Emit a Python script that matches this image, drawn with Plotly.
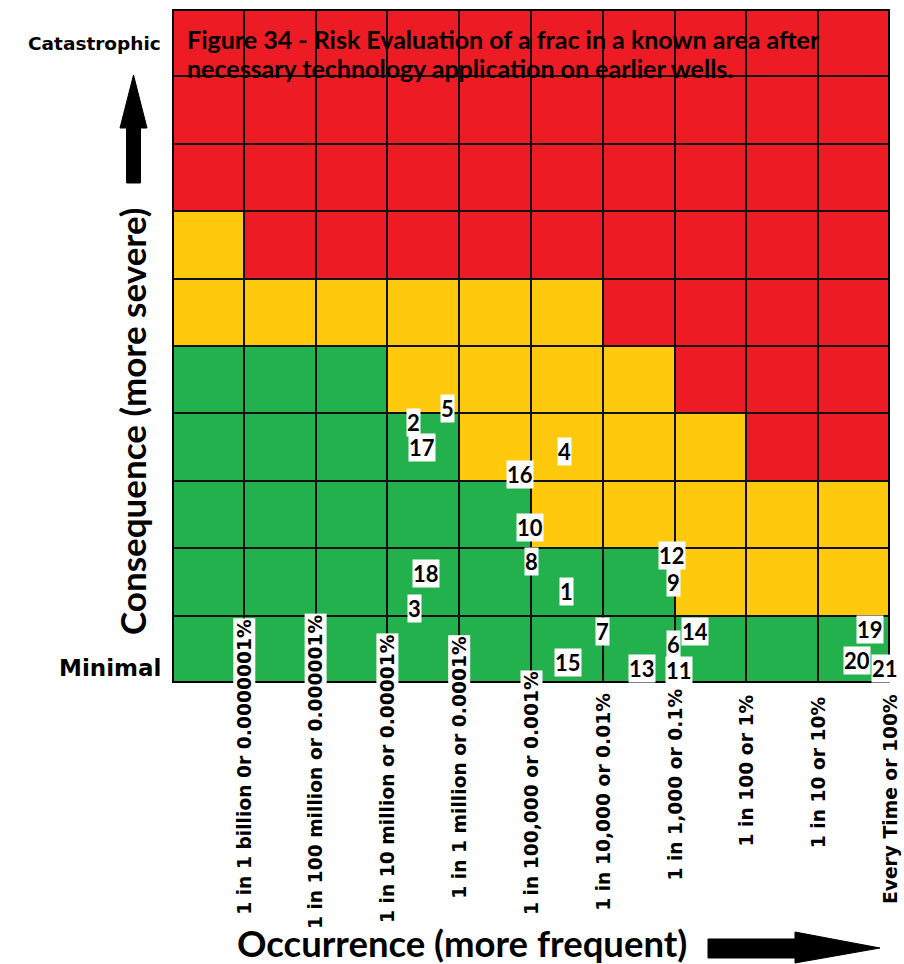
import plotly.graph_objects as go

# ---------------- data ----------------
occurrence_labels = [
    "1 in 1 billion 0r 0.0000001%",
    "1 in 100 million or 0.000001%",
    "1 in 10 million or 0.00001%",
    "1 in 1 million or 0.0001%",
    "1 in 100,000 or 0.001%",
    "1 in 10,000 or 0.01%",
    "1 in 1,000 or 0.1%",
    "1 in 100 or 1%",
    "1 in 10 or 10%",
    "Every Time or 100%",
]

# risk level per cell: 0 = green, 1 = yellow, 2 = red ; rows from Minimal (bottom) to Catastrophic (top)
risk_row_1 = [0, 0, 0, 0, 0, 0, 0, 0, 0, 0]
risk_row_2 = [0, 0, 0, 0, 0, 0, 0, 1, 1, 1]
risk_row_3 = [0, 0, 0, 0, 0, 1, 1, 1, 1, 1]
risk_row_4 = [0, 0, 0, 0, 1, 1, 1, 1, 2, 2]
risk_row_5 = [0, 0, 0, 1, 1, 1, 1, 2, 2, 2]
risk_row_6 = [1, 1, 1, 1, 1, 1, 2, 2, 2, 2]
risk_row_7 = [1, 2, 2, 2, 2, 2, 2, 2, 2, 2]
risk_row_8 = [2, 2, 2, 2, 2, 2, 2, 2, 2, 2]
risk_row_9 = [2, 2, 2, 2, 2, 2, 2, 2, 2, 2]
risk_row_10 = [2, 2, 2, 2, 2, 2, 2, 2, 2, 2]

# numbered risks: id, occurrence (x, column units), consequence (y, row units)
risk_ids = [1, 2, 3, 4, 5, 6, 7, 8, 9, 10, 11, 12, 13, 14, 15, 16, 17, 18, 19, 20, 21]
risk_occ = [5.50, 3.37, 3.38, 5.47, 3.84, 6.99, 6.00, 5.00, 6.99, 4.98, 7.06,
            6.96, 6.55, 7.28, 5.52, 4.85, 3.48, 3.54, 9.72, 9.54, 9.93]
risk_cons = [1.36, 3.87, 1.11, 3.44, 4.08, 0.57, 0.77, 1.80, 1.49, 2.31, 0.19,
             1.89, 0.21, 0.76, 0.30, 3.09, 3.49, 1.62, 0.79, 0.34, 0.21]

title_line_1 = "Figure 34 - Risk Evaluation of a frac in a known area after"
title_line_2 = "necessary technology application on earlier wells."

# ---------------- layout constants ----------------
W, H = 904, 964
L, R, T, B = 172, 890, 9, 683   # plot area in pixels
RED, YELLOW, GREEN = "#ED1C24", "#FFC90E", "#22B14C"

# top pixel of each rotated occurrence label (ragged in the original)
label_top_px = [618, 613, 633, 635, 670, 692, 688, 693, 695, 693]


def fx(px):
    return (px - L) / (R - L)


def fy(py):
    return (B - py) / (B - T)


z = [risk_row_1, risk_row_2, risk_row_3, risk_row_4, risk_row_5,
     risk_row_6, risk_row_7, risk_row_8, risk_row_9, risk_row_10]
ncol = len(occurrence_labels)
nrow = len(z)

fig = go.Figure()
fig.add_trace(go.Heatmap(
    z=z,
    x=[i + 0.5 for i in range(ncol)],
    y=[j + 0.5 for j in range(nrow)],
    zmin=0, zmax=2,
    colorscale=[[0, GREEN], [0.333, GREEN], [0.333, YELLOW], [0.666, YELLOW],
                [0.666, RED], [1, RED]],
    showscale=False, xgap=2, ygap=2, hoverinfo="skip",
))

annotations = []
# numbered risk labels
for rid, ox, cy in zip(risk_ids, risk_occ, risk_cons):
    annotations.append(dict(
        x=ox, y=cy, xref="x", yref="y", text=f"<b>{rid}</b>", showarrow=False,
        xanchor="center", yanchor="middle", bgcolor="white", borderpad=0,
        font=dict(family="Lato", size=22, color="black"),
    ))

# occurrence labels (rotated)
for i, lab in enumerate(occurrence_labels):
    annotations.append(dict(
        x=i + 1, y=fy(label_top_px[i]), xref="x", yref="paper",
        text=f"<b>{lab}</b>", showarrow=False, textangle=-90,
        xanchor="center", yanchor="top", bgcolor="white", borderpad=0,
        font=dict(family="DejaVu Sans", size=18.7, color="black"),
    ))

# title inside the chart (two lines)
for txt, ypx in ((title_line_1, 39), (title_line_2, 68)):
    annotations.append(dict(
        x=fx(185), y=fy(ypx), xref="paper", yref="paper", xanchor="left",
        yanchor="middle", align="left", showarrow=False, text=f"<b>{txt}</b>",
        font=dict(family="Lato", size=25, color="black"),
    ))

# axis titles and extremes
annotations.append(dict(
    x=fx(132), y=fy(422), xref="paper", yref="paper", showarrow=False, textangle=-90,
    xanchor="center", yanchor="middle",
    text="<b>Consequence (more severe)</b>",
    font=dict(family="Lato", size=35, color="black"),
))
annotations.append(dict(
    x=fx(462), y=fy(943), xref="paper", yref="paper", showarrow=False,
    xanchor="center", yanchor="middle",
    text="<b>Occurrence (more frequent)</b>",
    font=dict(family="Lato", size=36.5, color="black"),
))
annotations.append(dict(
    x=fx(163), y=fy(44), xref="paper", yref="paper", showarrow=False,
    xanchor="right", yanchor="middle", text="<b>Catastrophic</b>",
    font=dict(family="DejaVu Sans", size=18.5, color="black"),
))
annotations.append(dict(
    x=fx(163), y=fy(668), xref="paper", yref="paper", showarrow=False,
    xanchor="right", yanchor="middle", text="<b>Minimal</b>",
    font=dict(family="DejaVu Sans", size=23, color="black"),
))


def path(points):
    return "M " + " L ".join(f"{fx(a):.5f},{fy(b):.5f}" for a, b in points) + " Z"


up_arrow = [(126.5, 183), (140.5, 183), (140.5, 128), (147, 128), (133.5, 75),
            (120, 128), (126.5, 128)]
right_arrow = [(708, 939), (795, 939), (795, 932), (880, 948), (795, 963),
               (795, 958), (708, 958)]

shapes = [
    dict(type="rect", xref="x", yref="y", x0=0, x1=ncol, y0=0, y1=nrow,
         line=dict(color="black", width=4), layer="above"),
    dict(type="path", xref="paper", yref="paper", path=path(up_arrow),
         fillcolor="black", line=dict(color="black", width=1)),
    dict(type="path", xref="paper", yref="paper", path=path(right_arrow),
         fillcolor="black", line=dict(color="black", width=1)),
]

fig.update_layout(
    width=W, height=H,
    margin=dict(l=L, r=W - R, t=T, b=H - B),
    paper_bgcolor="white", plot_bgcolor="#111111",
    xaxis=dict(range=[0, ncol], showticklabels=False, showgrid=False,
               zeroline=False, ticks="", fixedrange=True),
    yaxis=dict(range=[0, nrow], showticklabels=False, showgrid=False,
               zeroline=False, ticks="", fixedrange=True),
    annotations=annotations, shapes=shapes, showlegend=False,
)

fig.write_html(
    "out.html",
    config={"displayModeBar": False},
    post_script="document.body.style.margin='0';document.body.style.overflow='hidden';",
)
